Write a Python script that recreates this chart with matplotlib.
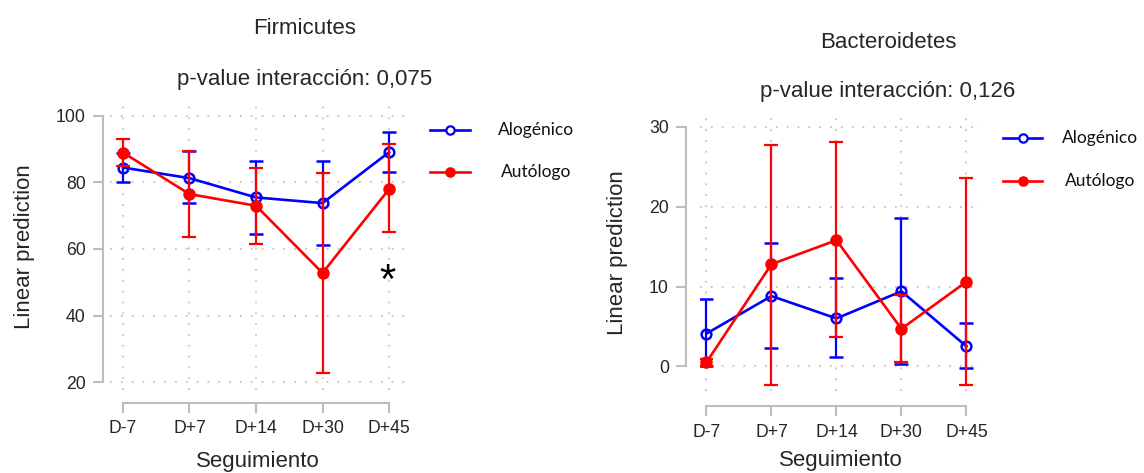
import numpy as np
import matplotlib
matplotlib.use("Agg")
import matplotlib.pyplot as plt

plt.rcParams['font.family'] = ['Liberation Sans', 'DejaVu Sans']

visits = ["D-7", "D+7", "D+14", "D+30", "D+45"]

# Firmicutes
firm_alo = [84.5, 81.3, 75.5, 73.8, 89.1]
firm_alo_lo = [80.0, 73.7, 64.5, 61.2, 83.3]
firm_alo_hi = [89.0, 89.6, 86.5, 86.5, 95.1]
firm_aut = [89.0, 76.5, 73.0, 52.8, 78.0]
firm_aut_lo = [85.1, 63.6, 61.6, 22.8, 65.0]
firm_aut_hi = [93.1, 89.6, 84.4, 82.9, 91.5]

# Bacteroidetes
bact_alo = [4.1, 8.8, 6.0, 9.4, 2.5]
bact_alo_lo = [0.0, 2.3, 1.1, 0.3, -0.2]
bact_alo_hi = [8.4, 15.5, 11.1, 18.6, 5.4]
bact_aut = [0.5, 12.8, 15.8, 4.7, 10.6]
bact_aut_lo = [0.05, -2.3, 3.7, 0.5, -2.3]
bact_aut_hi = [0.9, 27.8, 28.1, 8.9, 23.6]

BLUE = "#0000ff"
RED = "#ff0000"
SPINE = "#bdbdbd"
TXT = "#262626"


def draw_panel(ax, alo, alo_lo, alo_hi, aut, aut_lo, aut_hi, yticks, ylim, xlim,
               off_l, off_b, xpad):
    x = np.arange(len(visits))
    ax.set_xlim(*xlim)
    ax.set_ylim(*ylim)
    ax.grid(True, color="#c4c4c4", linestyle=(0, (1, 5)), linewidth=1.3)
    ax.set_axisbelow(True)

    alo = np.array(alo)
    aut = np.array(aut)
    ax.errorbar(x, alo, yerr=[alo - np.array(alo_lo), np.array(alo_hi) - alo],
                color=BLUE, ecolor=BLUE, elinewidth=1.6, capsize=5, capthick=1.6,
                lw=1.9, marker="o", ms=7, mfc="none", mec=BLUE, mew=1.8, zorder=3)
    ax.errorbar(x, aut, yerr=[aut - np.array(aut_lo), np.array(aut_hi) - aut],
                color=RED, ecolor=RED, elinewidth=1.6, capsize=5, capthick=1.6,
                lw=1.9, marker="o", ms=8, mfc=RED, mec=RED, zorder=4)

    for s in ["top", "right"]:
        ax.spines[s].set_visible(False)
    ax.spines["left"].set_position(("outward", off_l))
    ax.spines["bottom"].set_position(("outward", off_b))
    ax.spines["left"].set_bounds(yticks[0], yticks[-1])
    ax.spines["bottom"].set_bounds(0, len(visits) - 1)
    for s in ["left", "bottom"]:
        ax.spines[s].set_color(SPINE)
        ax.spines[s].set_linewidth(1.5)
    ax.set_xticks(x)
    ax.set_xticklabels(visits)
    ax.set_yticks(yticks)
    ax.tick_params(axis="both", colors=SPINE, labelcolor=TXT, labelsize=12.7,
                   length=7.5, width=1.5, pad=5)
    ax.set_ylabel("Linear prediction", fontsize=16, color=TXT, labelpad=15)
    ax.set_xlabel("Seguimiento", fontsize=16, color=TXT, labelpad=xpad)


def draw_legend(fig, x0, x1, xt, y1, y2):
    for y, c, mfc in [(y1, BLUE, "white"), (y2, RED, RED)]:
        fig.add_artist(plt.Line2D([x0 / 1144, x1 / 1144], [1 - y / 473] * 2,
                                  color=c, lw=1.9))
        fig.add_artist(plt.Line2D([(x0 + x1) / 2 / 1144], [1 - y / 473],
                                  color=c, marker="o", ms=6, mfc=mfc, mec=c, mew=1.6))
    fig.text(xt / 1144, 1 - y1 / 473, "Alogénico", fontsize=12.5, family="Lato",
             color="#111111", va="center", ha="center")
    fig.text(xt / 1144, 1 - y2 / 473, "Autólogo", fontsize=12.5, family="Lato",
             color="#111111", va="center", ha="center")


fig = plt.figure(figsize=(11.44, 4.73), dpi=100)

ax1 = fig.add_axes([110 / 1144, 1 - 390 / 473, 295 / 1144, 287 / 473])
draw_panel(ax1, firm_alo, firm_alo_lo, firm_alo_hi, firm_aut, firm_aut_lo, firm_aut_hi,
           [20, 40, 60, 80, 100], (17.6, 103.9), (-0.195, 4.24), 5, 9, 10)
ax1.text(3.97, 50.0, "*", fontsize=30, ha="center", va="center", color="black")

ax2 = fig.add_axes([700 / 1144, 1 - 391 / 473, 282 / 1144, 276 / 473])
draw_panel(ax2, bact_alo, bact_alo_lo, bact_alo_hi, bact_aut, bact_aut_lo, bact_aut_hi,
           [0, 10, 20, 30], (-3.1, 31.5), (-0.10, 4.24), 10, 11, 7)

fig.text(305 / 1144, 1 - 28 / 473, "Firmicutes", fontsize=16, color=TXT, ha="center", va="center")
fig.text(305 / 1144, 1 - 80 / 473, "p-value interacción: 0,075", fontsize=16, color=TXT,
         ha="center", va="center")
fig.text(888 / 1144, 1 - 42 / 473, "Bacteroidetes", fontsize=16, color=TXT, ha="center", va="center")
fig.text(888 / 1144, 1 - 92 / 473, "p-value interacción: 0,126", fontsize=16, color=TXT,
         ha="center", va="center")

draw_legend(fig, 430, 470, 536, 130, 172)
draw_legend(fig, 1003, 1042, 1100, 138, 181)

fig.savefig("out.png", dpi=100)
